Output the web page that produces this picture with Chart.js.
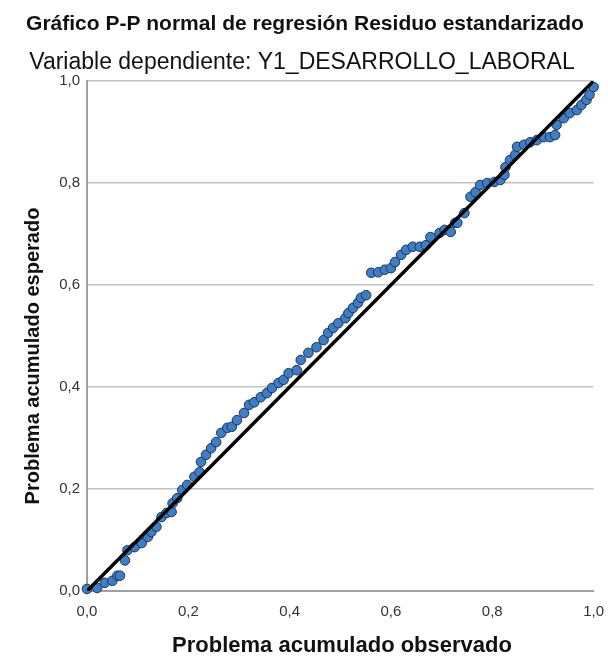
<!DOCTYPE html>
<html>
<head>
<meta charset="utf-8">
<script src="https://cdn.jsdelivr.net/npm/chart.js@4"></script>
<style>
  html, body { margin: 0; padding: 0; background: #fff; }
  canvas { display: block; }
</style>
</head>
<body>
<canvas id="ppChart" width="608" height="662"></canvas>
<script>
// observed cumulative probability (x) and expected cumulative probability (y)
const observed = [
  0.00, 0.02, 0.035, 0.05, 0.06, 0.065,
  0.075, 0.08, 0.094, 0.108, 0.12, 0.127, 0.137, 0.147, 0.157, 0.167, 0.169, 0.178, 0.188, 0.198, 0.212, 0.222,
  0.225, 0.235, 0.245, 0.255, 0.265, 0.277, 0.286, 0.296, 0.31, 0.32, 0.33, 0.343, 0.355, 0.365, 0.378,
  0.388, 0.398, 0.414, 0.422, 0.437, 0.453, 0.467, 0.476, 0.486, 0.496, 0.51, 0.516, 0.525, 0.535, 0.541, 0.551,
  0.561, 0.575, 0.588, 0.6, 0.608, 0.62, 0.63, 0.643, 0.657, 0.669, 0.678, 0.696, 0.706, 0.718, 0.727,
  0.731, 0.745, 0.757, 0.767, 0.776, 0.79, 0.804, 0.816, 0.824, 0.826, 0.835, 0.845, 0.849, 0.863, 0.875,
  0.888, 0.902, 0.914, 0.924, 0.927, 0.941, 0.953, 0.967, 0.976, 0.986, 0.992, 1.0
];
const expected = [
  0.004, 0.006, 0.016, 0.02, 0.03, 0.03,
  0.06, 0.08, 0.086, 0.094, 0.106, 0.116, 0.126, 0.145, 0.153, 0.155, 0.172, 0.182, 0.198, 0.208, 0.224, 0.233,
  0.253, 0.267, 0.28, 0.292, 0.31, 0.32, 0.322, 0.335, 0.349, 0.365, 0.37, 0.38, 0.388, 0.398, 0.408,
  0.414, 0.427, 0.433, 0.453, 0.467, 0.478, 0.492, 0.506, 0.516, 0.525, 0.535, 0.545, 0.555, 0.565, 0.575, 0.58,
  0.624, 0.625, 0.63, 0.633, 0.645, 0.659, 0.669, 0.675, 0.675, 0.678, 0.694, 0.702, 0.708, 0.704, 0.722,
  0.722, 0.741, 0.773, 0.782, 0.796, 0.8, 0.802, 0.806, 0.816, 0.831, 0.845, 0.855, 0.871, 0.875, 0.88,
  0.884, 0.89, 0.89, 0.894, 0.914, 0.927, 0.937, 0.943, 0.953, 0.963, 0.973, 0.988
];
const refLine = [0, 1];
const tickValues = [0, 0.2, 0.4, 0.6, 0.8, 1.0];

const titleText = 'Gráfico P-P normal de regresión Residuo estandarizado';
const subtitleText = 'Variable dependiente: Y1_DESARROLLO_LABORAL';
const xTitle = 'Problema acumulado observado';
const yTitle = 'Problema acumulado esperado';

const fontFamily = '"Liberation Sans", Arial, sans-serif';
const fmt = v => v.toFixed(1).replace('.', ',');

// titles drawn around the plot (SPSS style)
const titlesPlugin = {
    id: 'titles',
    afterDraw(chart) {
        const ctx = chart.ctx;
        ctx.save();
        ctx.fillStyle = '#111';
        ctx.textAlign = 'center';
        ctx.textBaseline = 'alphabetic';
        ctx.font = 'bold 21px ' + fontFamily;
        ctx.fillText(titleText, 305, 30);
        ctx.font = '23px ' + fontFamily;
        ctx.fillText(subtitleText, 302, 69);
        ctx.font = 'bold 22px ' + fontFamily;
        ctx.fillText(xTitle, 342, 652);
        ctx.translate(39, 356);
        ctx.rotate(-Math.PI / 2);
        ctx.font = 'bold 20px ' + fontFamily;
        ctx.fillText(yTitle, 0, 0);
        ctx.restore();
    }
};

const points = observed.map((x, i) => ({ x: x, y: expected[i] }));

new Chart(document.getElementById('ppChart'), {
    type: 'scatter',
    data: {
        datasets: [
            {
                type: 'line',
                data: refLine.map(v => ({ x: v, y: v })),
                borderColor: '#000',
                borderWidth: 3.5,
                pointRadius: 0,
                order: 0
            },
            {
                data: points,
                backgroundColor: '#3f7dc4',
                borderColor: '#1c3558',
                borderWidth: 1,
                pointRadius: 4.8,
                clip: false,
                order: 1
            }
        ]
    },
    options: {
        responsive: false,
        animation: false,
        devicePixelRatio: 1,
        layout: { padding: { top: 81, right: 11, left: 0, bottom: 0 } },
        plugins: {
            legend: { display: false },
            tooltip: { enabled: false }
        },
        scales: {
            x: {
                type: 'linear',
                min: 0,
                max: 1,
                afterFit: s => { s.height = 71; },
                afterBuildTicks: s => { s.ticks = tickValues.map(v => ({ value: v })); },
                grid: { display: false },
                border: { display: true, color: '#a0a0a0', width: 2 },
                ticks: {
                    callback: v => fmt(v),
                    color: '#333',
                    font: { size: 15, family: fontFamily },
                    padding: 4,
                    maxRotation: 0
                }
            },
            y: {
                type: 'linear',
                min: 0,
                max: 1,
                afterFit: s => { s.width = 87; },
                afterBuildTicks: s => { s.ticks = tickValues.map(v => ({ value: v })); },
                grid: { color: '#c4c4c4', lineWidth: 1.5, drawTicks: false },
                border: { display: true, color: '#a0a0a0', width: 2 },
                ticks: {
                    callback: v => fmt(v),
                    color: '#333',
                    font: { size: 15, family: fontFamily },
                    padding: 7
                }
            }
        }
    },
    plugins: [titlesPlugin]
});
</script>
</body>
</html>
